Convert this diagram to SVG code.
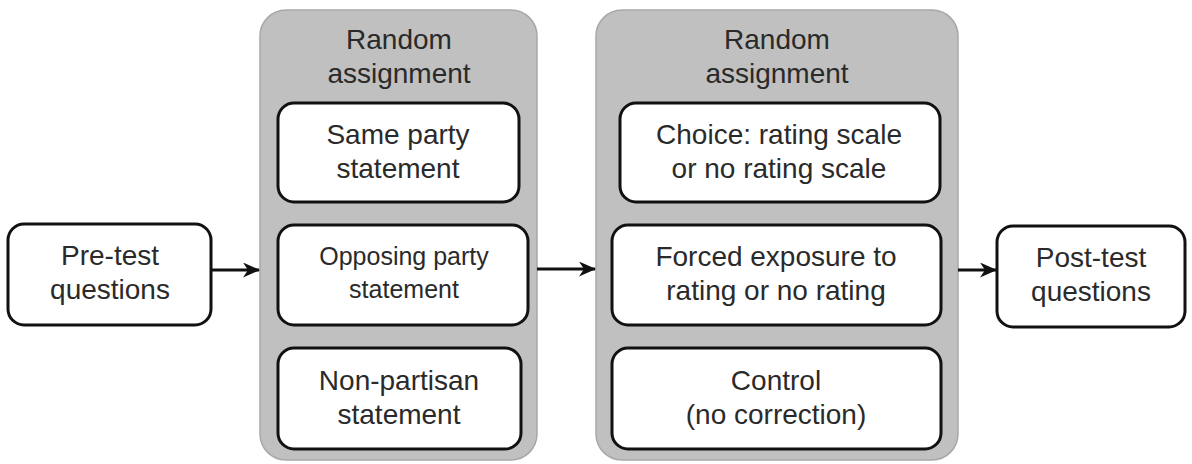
<svg xmlns="http://www.w3.org/2000/svg" width="1192" height="464" viewBox="0 0 1192 464">
<style>
.grp{fill:#c0c0c0;stroke:#a8a8a8;stroke-width:1.5}
.box{fill:#fff;stroke:#111;stroke-width:3}
.t{font-family:"Liberation Sans",Arial,sans-serif;font-size:28px;fill:#2a2a2a;text-anchor:middle}
.ts{font-size:25px}
.c{stroke:#111;stroke-width:3;fill:none}
</style>
<defs>
<marker id="ah" markerWidth="17" markerHeight="15" refX="16" refY="7.5" orient="auto" markerUnits="userSpaceOnUse">
<path d="M0,0 L17,7.5 L0,15 L5,7.5 Z" fill="#111"/>
</marker>
</defs>
<rect width="1192" height="464" fill="#fff"/>
<g id="group1">
<rect class="grp" x="260" y="10" width="277" height="450" rx="26"/>
<text class="t" x="399" y="49">Random</text>
<text class="t" x="399" y="83">assignment</text>
</g>
<g id="group2">
<rect class="grp" x="596" y="10" width="362" height="450" rx="26"/>
<text class="t" x="777" y="49">Random</text>
<text class="t" x="777" y="83">assignment</text>
</g>
<g id="pretest">
<rect class="box" x="8" y="224" width="203" height="101" rx="16"/>
<text class="t" x="110" y="265">Pre-test</text>
<text class="t" x="110" y="299">questions</text>
</g>
<g id="same">
<rect class="box" x="278" y="103" width="241" height="99" rx="16"/>
<text class="t" x="398" y="144">Same party</text>
<text class="t" x="398" y="178">statement</text>
</g>
<g id="opposing">
<rect class="box" x="278" y="225" width="250" height="100" rx="16"/>
<text class="t ts" x="404" y="265">Opposing party</text>
<text class="t ts" x="404" y="298">statement</text>
</g>
<g id="nonpartisan">
<rect class="box" x="278" y="348" width="243" height="101" rx="16"/>
<text class="t" x="399" y="390">Non-partisan</text>
<text class="t" x="399" y="424">statement</text>
</g>
<g id="choice">
<rect class="box" x="620" y="103" width="320" height="99" rx="16"/>
<text class="t" x="779" y="144">Choice: rating scale</text>
<text class="t" x="779" y="178">or no rating scale</text>
</g>
<g id="forced">
<rect class="box" x="612" y="225" width="329" height="100" rx="16"/>
<text class="t" x="776" y="266">Forced exposure to</text>
<text class="t" x="776" y="300">rating or no rating</text>
</g>
<g id="control">
<rect class="box" x="612" y="348" width="329" height="101" rx="16"/>
<text class="t" x="776" y="390">Control</text>
<text class="t" x="776" y="424">(no correction)</text>
</g>
<g id="posttest">
<rect class="box" x="997" y="226" width="188" height="101" rx="16"/>
<text class="t" x="1091" y="267">Post-test</text>
<text class="t" x="1091" y="301">questions</text>
</g>
<g id="connectors">
<line class="c" x1="211" y1="270" x2="259" y2="270" marker-end="url(#ah)"/>
<line class="c" x1="537" y1="269" x2="595" y2="269" marker-end="url(#ah)"/>
<line class="c" x1="958" y1="270" x2="996" y2="270" marker-end="url(#ah)"/>
</g>
</svg>
